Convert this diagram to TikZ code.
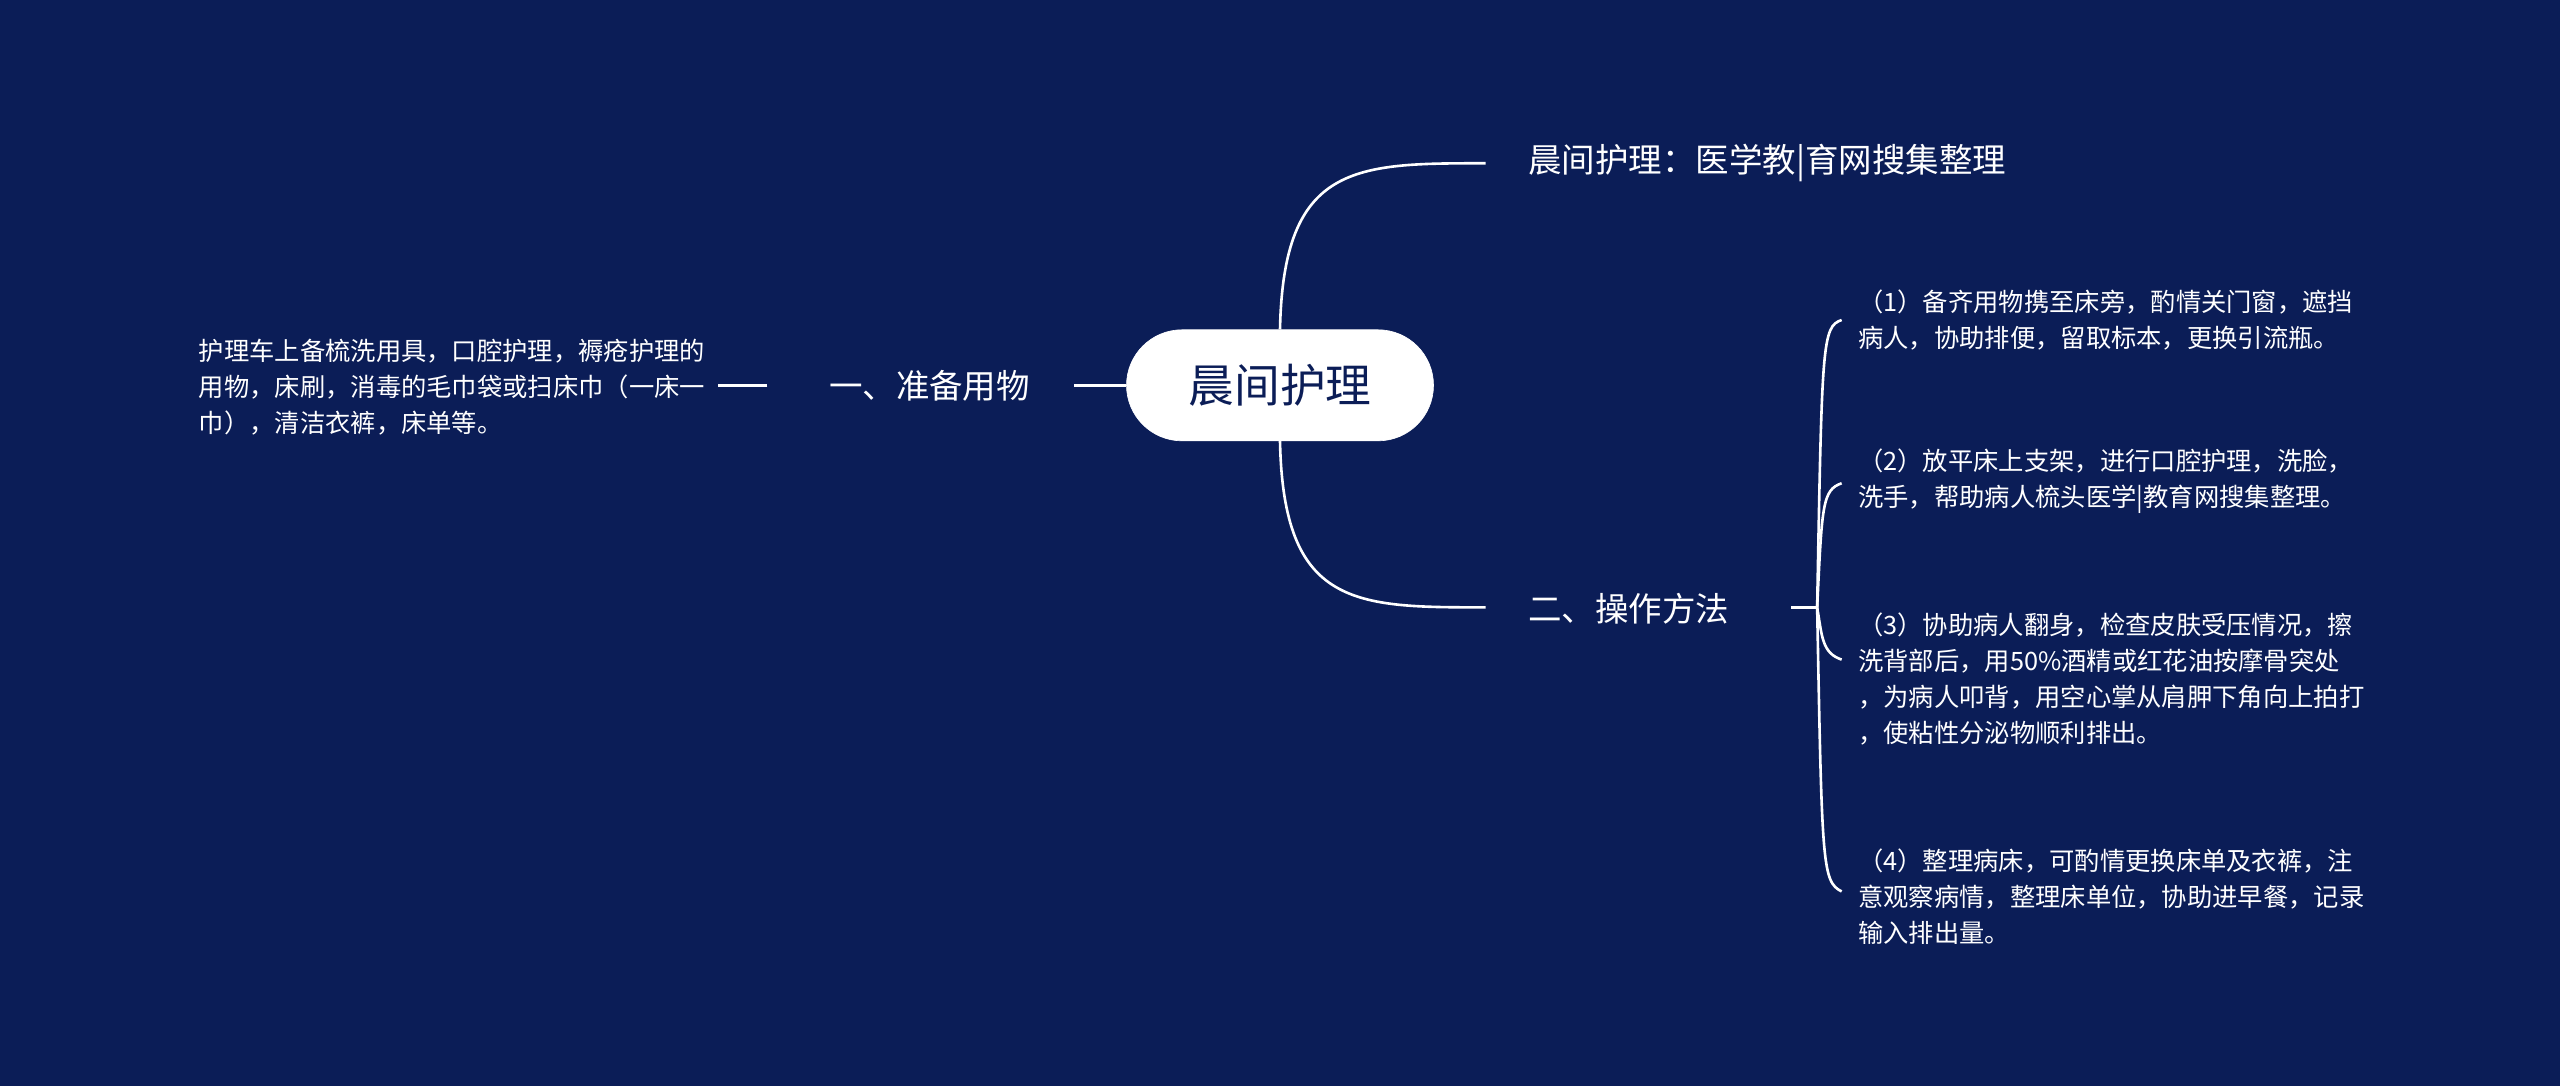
\documentclass[tikz,border=0pt]{standalone}
\usepackage{fontspec}
\setmainfont{Noto Sans CJK SC}
\begin{document}
\begin{tikzpicture}[x=1pt,y=-1pt,
  link/.style={draw=white,line width=1.6pt},
  leaf/.style={text=white,font=\fontsize{15.5}{22}\selectfont,align=left,anchor=west,inner sep=0pt},
  branch/.style={text=white,font=\fontsize{20.5}{24}\selectfont,anchor=west,inner sep=0pt}]
\fill[fill={rgb,255:red,11;green,29;blue,87}] (0,0) rectangle (1568,665);
\useasboundingbox (0,0) rectangle (1568,665);
\node[draw=white,fill=white,rounded corners=34pt,minimum width=188pt,minimum height=68pt,
  text={rgb,255:red,11;green,29;blue,87},font=\fontsize{28}{32}\selectfont] (root) at (784,236) {晨间护理};
\node[branch] (b1) at (936,100) {晨间护理：医学教|育网搜集整理};
\node[branch] (b2) at (936,373) {二、操作方法};
\node[branch,anchor=east] (b3) at (631,236) {一、准备用物};
\node[leaf,anchor=east] (l0) at (432,237) {护理车上备梳洗用具，口腔护理，褥疮护理的\\用物，床刷，消毒的毛巾袋或扫床巾（一床一\\巾），清洁衣裤，床单等。};
\coordinate (c1) at (910,100);
\coordinate (c2) at (910,372);
\coordinate (s) at (1113,372);
\coordinate (s0) at (1097,372);
\draw[link] (root.north) .. controls (786,100) and (830,100) .. (c1);
\draw[link] (root.south) .. controls (786,372) and (830,372) .. (c2);
\draw[link] (s0) -- (s);
\draw[link] (root.west) -- (658,236);
\draw[link] (470,236) -- (440,236);
\node[leaf] (r1) at (1138,196) {（1）备齐用物携至床旁，酌情关门窗，遮挡\\病人，协助排便，留取标本，更换引流瓶。};
\node[leaf] (r2) at (1138,295) {（2）放平床上支架，进行口腔护理，洗脸，\\洗手，帮助病人梳头医学|教育网搜集整理。};
\node[leaf] (r3) at (1138,416) {（3）协助病人翻身，检查皮肤受压情况，擦\\洗背部后，用50\%酒精或红花油按摩骨突处\\，为病人叩背，用空心掌从肩胛下角向上拍打\\，使粘性分泌物顺利排出。};
\node[leaf] (r4) at (1138,549) {（4）整理病床，可酌情更换床单及衣裤，注\\意观察病情，整理床单位，协助进早餐，记录\\输入排出量。};
\draw[link] (s) .. controls (1116,210) and (1116,200) .. (1128,196);
\draw[link] (s) .. controls (1116,310) and (1116,300) .. (1128,296);
\draw[link] (s) .. controls (1116,390) and (1116,400) .. (1128,404);
\draw[link] (s) .. controls (1116,530) and (1116,540) .. (1128,546);
\end{tikzpicture}
\end{document}
